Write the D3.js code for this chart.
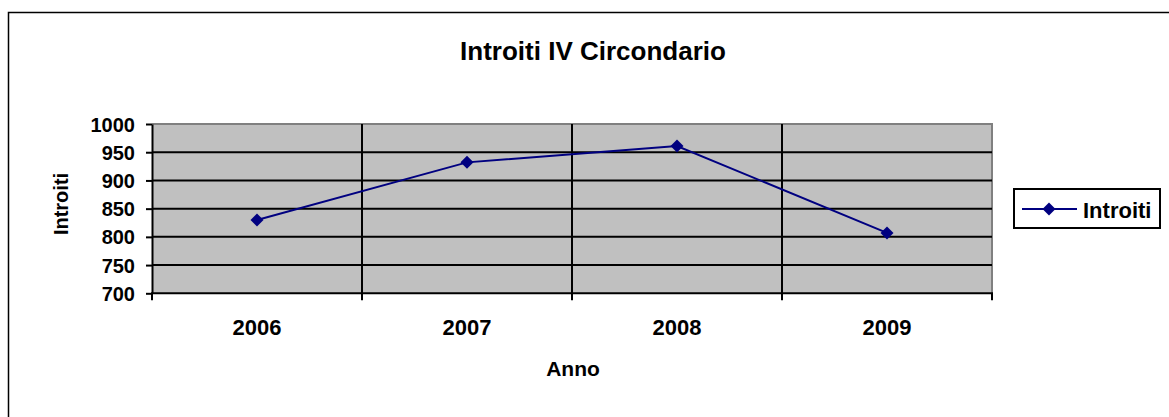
<!DOCTYPE html>
<html><head><meta charset="utf-8">
<script src="https://cdn.jsdelivr.net/npm/d3@7"></script>
<style>body{margin:0;background:#fff}svg{display:block;font-family:"Liberation Sans",Arial,sans-serif;font-weight:bold}</style>
</head><body>
<svg id="c" width="1169" height="417"></svg>
<script>
const categories = ["2006","2007","2008","2009"];
const values = [830, 932, 961, 807];
const yTicks = [700,750,800,850,900,950,1000];
const title = "Introiti IV Circondario";
const seriesName = "Introiti";
const xTitle = "Anno";
const yTitle = "Introiti";

const svg = d3.select("#c");
const L=152, R=992, T=124, B=293.3;
const x = d3.scaleBand().domain(categories).range([L,R]);
const y = d3.scaleLinear().domain([700,1000]).range([B,T]);

// outer border
svg.append("rect").attr("x",8.5).attr("y",12.5).attr("width",1200).attr("height",500)
  .attr("fill","#fff").attr("stroke","#000").attr("stroke-width",1.5);

// plot area
svg.append("rect").attr("x",L).attr("y",T).attr("width",R-L).attr("height",B-T).attr("fill","#c0c0c0");
svg.append("path").attr("d",`M${L},${T}H${R}V${B}`).attr("fill","none").attr("stroke","#808080").attr("stroke-width",2);

// horizontal gridlines
svg.append("g").selectAll("line").data(yTicks.filter(d=>d>700 && d<1000)).join("line")
  .attr("x1",L).attr("x2",R).attr("y1",d=>y(d)).attr("y2",d=>y(d)).attr("stroke","#000").attr("stroke-width",2);
// vertical gridlines at category boundaries
const bounds = categories.map(c=>x(c)).concat([x(categories[categories.length-1])+x.bandwidth()]);
svg.append("g").selectAll("line").data(bounds.slice(1,-1)).join("line")
  .attr("x1",d=>d).attr("x2",d=>d).attr("y1",T).attr("y2",B).attr("stroke","#000").attr("stroke-width",2);

// y axis
const ya = svg.append("g").attr("transform",`translate(${L},0)`)
  .call(d3.axisLeft(y).tickValues(yTicks).tickFormat(d3.format("d")).tickSize(6).tickSizeOuter(0).tickPadding(11));
ya.select(".domain").attr("stroke","#000").attr("stroke-width",2);
ya.selectAll(".tick line").attr("stroke","#000").attr("stroke-width",2);
ya.selectAll(".tick text").attr("font-size",20).attr("font-family","Liberation Sans, Arial, sans-serif")
  .attr("font-weight","bold").attr("fill","#000").attr("dy","0.35em");

// x axis
const xa = svg.append("g").attr("transform",`translate(0,${B})`)
  .call(d3.axisBottom(x).tickSize(0).tickPadding(26));
xa.select(".domain").remove();
xa.selectAll(".tick text").attr("font-size",22).attr("font-family","Liberation Sans, Arial, sans-serif")
  .attr("font-weight","bold").attr("fill","#000");
svg.append("line").attr("x1",L-1).attr("x2",R+1).attr("y1",B).attr("y2",B).attr("stroke","#000").attr("stroke-width",2);
svg.append("g").selectAll("line").data(bounds).join("line")
  .attr("x1",d=>d).attr("x2",d=>d).attr("y1",B).attr("y2",B+7).attr("stroke","#000").attr("stroke-width",2);

// line + markers
const cx = d=>x(d)+x.bandwidth()/2;
svg.append("path").datum(values.map((v,i)=>[cx(categories[i]),y(v)]))
  .attr("d",d3.line()).attr("fill","none").attr("stroke","#000080").attr("stroke-width",2);
const diamond = "M0,-6.5L6.5,0L0,6.5L-6.5,0Z";
svg.append("g").selectAll("path").data(values).join("path")
  .attr("transform",(v,i)=>`translate(${cx(categories[i])},${y(v)})`).attr("d",diamond).attr("fill","#000080");

// titles
svg.append("text").attr("x",593).attr("y",60).attr("text-anchor","middle").attr("font-size",26).text(title);
svg.append("text").attr("x",573).attr("y",376).attr("text-anchor","middle").attr("font-size",21).text(xTitle);
svg.append("text").attr("transform","translate(68,204) rotate(-90)").attr("text-anchor","middle").attr("font-size",20).text(yTitle);

// legend
svg.append("rect").attr("x",1014).attr("y",189).attr("width",146).attr("height",39)
  .attr("fill","#fff").attr("stroke","#000").attr("stroke-width",2);
svg.append("line").attr("x1",1022).attr("x2",1077).attr("y1",209).attr("y2",209).attr("stroke","#000080").attr("stroke-width",2);
svg.append("path").attr("transform","translate(1049,209)").attr("d",diamond).attr("fill","#000080");
svg.append("text").attr("x",1083).attr("y",218).attr("font-size",22).text(seriesName);
</script>
</body></html>
